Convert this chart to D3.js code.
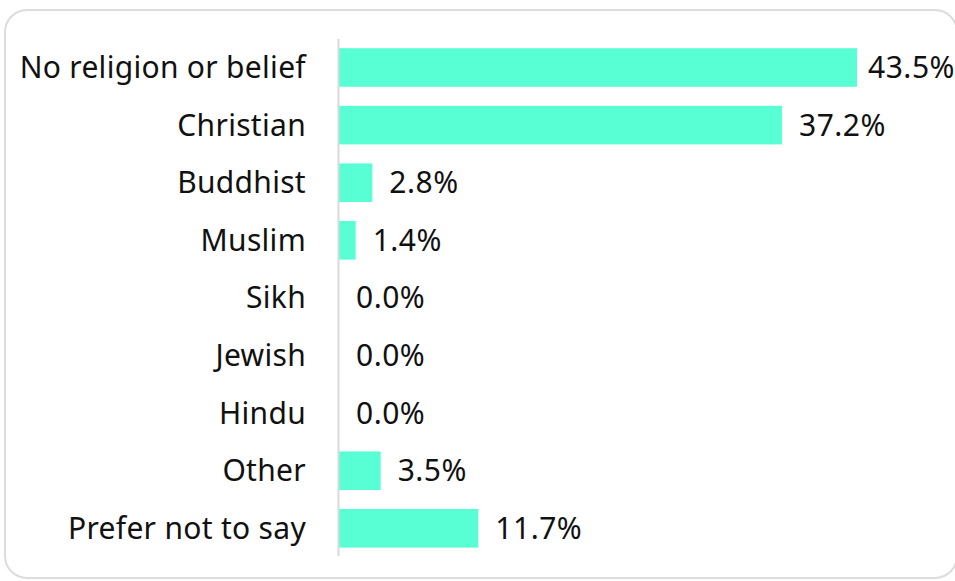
<!DOCTYPE html>
<html>
<head>
<meta charset="utf-8">
<script src="https://cdn.jsdelivr.net/npm/d3@7"></script>
<style>
  html, body { margin: 0; padding: 0; background: #fff; }
  svg { display: block; }
  text { font-family: "Noto Sans", Lato, sans-serif; fill: #111; }
</style>
</head>
<body>
<svg id="chart" width="955" height="581"></svg>
<script>
// Religion or belief, share of respondents (%)
const categories = [
  "No religion or belief", "Christian", "Buddhist", "Muslim", "Sikh",
  "Jewish", "Hindu", "Other", "Prefer not to say"
];
const values = [43.5, 37.2, 2.8, 1.4, 0.0, 0.0, 0.0, 3.5, 11.7];

const W = 955, H = 581;
const svg = d3.select("#chart");

// card outline
svg.append("rect")
  .attr("x", 5).attr("y", 10)
  .attr("width", 952).attr("height", 568)
  .attr("rx", 22).attr("ry", 22)
  .attr("fill", "#fff")
  .attr("stroke", "#dcdcdc")
  .attr("stroke-width", 2);

const x0 = 339;
const x = d3.scaleLinear().domain([0, 43.5]).range([x0, 857]);
const y = d3.scaleBand()
  .domain(categories)
  .range([38.7, 557.1])
  .paddingInner(0.33)
  .paddingOuter(0.165);

const fontSize = 30;
const fontFamily = "'Noto Sans', Lato, sans-serif";

// bars
svg.append("g").selectAll("rect")
  .data(categories)
  .join("rect")
  .attr("x", x(0))
  .attr("y", d => y(d))
  .attr("width", (d, i) => x(values[i]) - x(0))
  .attr("height", y.bandwidth())
  .attr("fill", "#58ffd5");

// vertical baseline
svg.append("line")
  .attr("x1", x0 - 0.5).attr("x2", x0 - 0.5)
  .attr("y1", 39).attr("y2", 556)
  .attr("stroke", "#d9d9d9")
  .attr("stroke-width", 2);

// category labels
const yAxis = d3.axisLeft(y).tickSize(0).tickPadding(33);
const ga = svg.append("g").attr("transform", `translate(${x0},0)`).call(yAxis);
ga.select(".domain").remove();
ga.selectAll("text")
  .attr("font-size", fontSize)
  .style("font-family", fontFamily)
  .style("letter-spacing", "0.3px")
  .attr("fill", "#111")
  .attr("dy", "0.35em");

// value labels
const fmt = d => d.toFixed(1) + "%";
svg.append("g").selectAll("text")
  .data(categories)
  .join("text")
  .attr("font-size", fontSize)
  .style("font-family", fontFamily)
  .style("letter-spacing", "0.5px")
  .attr("y", d => y(d) + y.bandwidth() / 2)
  .attr("dy", "0.35em")
  .text((d, i) => fmt(values[i]))
  .attr("x", function(d, i) {
    const w = this.getComputedTextLength();
    return Math.min(x(values[i]) + 17, W - w);
  });
</script>
</body>
</html>
